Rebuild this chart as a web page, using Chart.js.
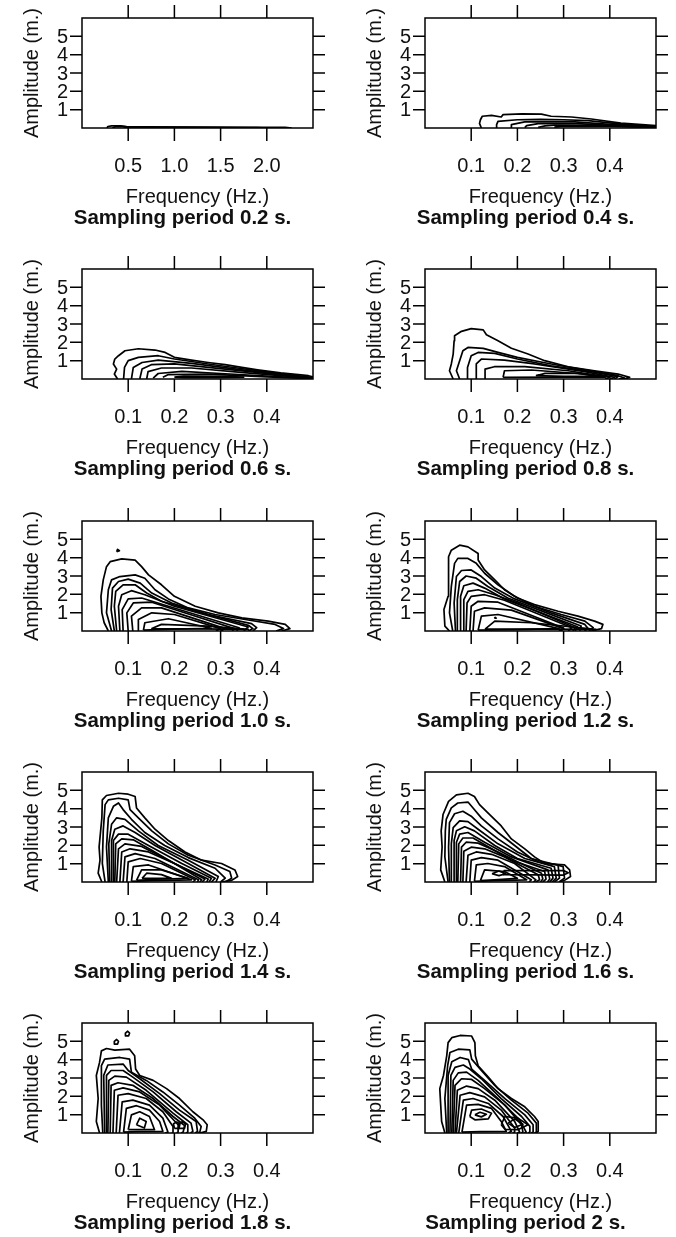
<!DOCTYPE html>
<html>
<head>
<meta charset="utf-8">
<script src="https://cdn.jsdelivr.net/npm/chart.js@4.4.0/dist/chart.umd.min.js"></script>
<style>
body { margin: 0; background: #fff; width: 676px; height: 1237px; overflow: hidden; position: relative; }
canvas { position: absolute; }
</style>
</head>
<body>
<script>
// contour lines, each one a flat list x1,y1,x2,y2,...  (x = Hz, y = m)
const p02 = [
  [0.27,0, 0.28,0.08, 0.32,0.12, 0.42,0.12, 0.48,0.08, 0.7,0.06, 1.2,0.05, 1.8,0.04, 2.2,0.03, 2.27,0],
  [0.33,0, 0.36,0.07, 0.44,0.07, 0.6,0.04, 1.2,0.03, 1.9,0.02, 2.0,0],
  [0.45,0, 0.5,0.03, 1.0,0.025, 1.6,0.015, 1.7,0]
]
const p04 = [
  [0.122,0, 0.118,0.25, 0.12,0.45, 0.124,0.64, 0.144,0.69, 0.165,0.6, 0.169,0.73, 0.21,0.77, 0.252,0.76, 0.273,0.64, 0.317,0.6, 0.36,0.49, 0.424,0.27, 0.5,0.13],
  [0.155,0, 0.155,0.18, 0.158,0.36, 0.2,0.45, 0.25,0.47, 0.3,0.45, 0.353,0.4, 0.43,0.2, 0.5,0.09],
  [0.187,0, 0.187,0.18, 0.216,0.33, 0.317,0.35, 0.4,0.2, 0.5,0.06],
  [0.216,0.02, 0.22,0.13, 0.245,0.24, 0.33,0.24, 0.42,0.12, 0.5,0.04],
  [0.245,0.04, 0.26,0.12, 0.28,0.16, 0.36,0.15, 0.45,0.08, 0.5,0.03],
  [0.28,0.05, 0.3,0.1, 0.4,0.09, 0.47,0.05]
]
const p06 = [
  [0.077,0, 0.07,0.27, 0.075,0.54, 0.068,0.82, 0.071,1.09, 0.079,1.27, 0.093,1.54, 0.122,1.65, 0.158,1.58, 0.18,1.45, 0.2,1.18, 0.237,1.03, 0.273,0.9, 0.31,0.78, 0.346,0.63, 0.38,0.5, 0.43,0.33, 0.49,0.18, 0.504,0.09],
  [0.09,0, 0.092,0.63, 0.1,1.0, 0.122,1.18, 0.165,1.27, 0.2,1.09, 0.273,0.82, 0.38,0.45, 0.504,0.06],
  [0.107,0, 0.111,0.63, 0.13,0.9, 0.165,1.03, 0.237,0.85, 0.346,0.5, 0.504,0.05],
  [0.125,0, 0.13,0.54, 0.15,0.78, 0.2,0.82, 0.31,0.54, 0.504,0.04],
  [0.14,0, 0.143,0.4, 0.172,0.6, 0.237,0.6, 0.35,0.35, 0.504,0.03],
  [0.154,0.05, 0.165,0.3, 0.216,0.42, 0.3,0.3, 0.504,0.02],
  [0.175,0.1, 0.187,0.24, 0.273,0.27, 0.4,0.12, 0.5,0.02],
  [0.2,0.1, 0.22,0.16, 0.3,0.15, 0.35,0.1, 0.3,0.08, 0.22,0.08, 0.2,0.1]
]
const p08 = [
  [0.061,0, 0.053,0.45, 0.057,0.82, 0.061,1.36, 0.063,2.08, 0.064,2.36, 0.079,2.6, 0.1,2.75, 0.126,2.68, 0.133,2.41, 0.158,2.08, 0.187,1.68, 0.223,1.36, 0.259,1.0, 0.31,0.67, 0.367,0.45, 0.418,0.27, 0.443,0.09, 0.432,0],
  [0.075,0, 0.068,0.45, 0.075,1.0, 0.082,1.54, 0.093,1.72, 0.126,1.67, 0.158,1.45, 0.2,1.18, 0.273,0.82, 0.346,0.5, 0.418,0.18, 0.432,0.05, 0.42,0],
  [0.093,0, 0.092,0.63, 0.1,1.27, 0.115,1.45, 0.151,1.4, 0.2,1.09, 0.273,0.72, 0.36,0.4, 0.418,0.13, 0.41,0],
  [0.111,0, 0.111,0.82, 0.122,1.09, 0.172,1.03, 0.237,0.82, 0.346,0.4, 0.41,0.09, 0.4,0],
  [0.13,0, 0.13,0.54, 0.15,0.67, 0.216,0.67, 0.31,0.45, 0.4,0.09, 0.39,0],
  [0.169,0.09, 0.172,0.45, 0.23,0.49, 0.33,0.3, 0.39,0.1, 0.3,0.1, 0.169,0.09],
  [0.24,0.18, 0.26,0.31, 0.33,0.31, 0.39,0.15, 0.3,0.14, 0.24,0.18]
]
const p10 = [
  [0.075,4.32, 0.077,4.45, 0.081,4.38, 0.075,4.32],
  [0.057,0, 0.048,0.45, 0.043,0.99, 0.041,1.89, 0.046,2.79, 0.053,3.51, 0.061,3.78, 0.086,3.93, 0.115,3.87, 0.129,3.51, 0.144,3.06, 0.172,2.52, 0.2,1.89, 0.245,1.35, 0.295,0.99, 0.346,0.72, 0.403,0.54, 0.44,0.36, 0.45,0.13, 0.432,0],
  [0.064,0, 0.053,0.99, 0.057,2.25, 0.064,2.79, 0.082,2.97, 0.115,3.06, 0.136,2.88, 0.158,2.25, 0.187,1.75, 0.23,1.26, 0.288,0.9, 0.36,0.6, 0.418,0.36, 0.436,0.13, 0.42,0],
  [0.07,0, 0.063,1.17, 0.066,2.34, 0.079,2.7, 0.1,2.83, 0.126,2.61, 0.151,2.07, 0.194,1.53, 0.273,0.9, 0.367,0.4, 0.378,0.18, 0.37,0],
  [0.075,0, 0.07,1.35, 0.073,2.16, 0.089,2.52, 0.115,2.52, 0.14,2.07, 0.172,1.62, 0.259,0.99, 0.36,0.31, 0.37,0.13, 0.36,0],
  [0.082,0, 0.079,1.35, 0.086,1.98, 0.107,2.2, 0.136,1.98, 0.2,1.35, 0.36,0.22, 0.35,0],
  [0.089,0, 0.087,1.17, 0.1,1.75, 0.129,1.8, 0.187,1.35, 0.34,0.18, 0.335,0],
  [0.1,0, 0.097,0.99, 0.111,1.53, 0.151,1.57, 0.2,1.17, 0.33,0.13, 0.325,0],
  [0.11,0, 0.107,0.81, 0.129,1.26, 0.172,1.26, 0.31,0.13, 0.3,0],
  [0.122,0, 0.122,0.63, 0.151,0.99, 0.2,0.9, 0.3,0.13, 0.29,0],
  [0.133,0.05, 0.136,0.45, 0.187,0.67, 0.28,0.15, 0.2,0.1, 0.133,0.05],
  [0.15,0.12, 0.172,0.36, 0.273,0.27, 0.36,0.09, 0.25,0.12, 0.15,0.12]
]
const p12 = [
  [0.15,0.7, 0.152,0.74, 0.154,0.7, 0.15,0.7],
  [0.053,0, 0.043,0.27, 0.041,1.17, 0.05,1.89, 0.051,4.05, 0.057,4.41, 0.075,4.68, 0.093,4.59, 0.115,4.23, 0.115,3.87, 0.129,3.33, 0.151,2.79, 0.172,2.25, 0.2,1.8, 0.237,1.44, 0.288,1.08, 0.331,0.81, 0.367,0.54, 0.385,0.36, 0.382,0.13, 0.36,0],
  [0.06,0, 0.053,0.99, 0.057,2.43, 0.064,3.69, 0.071,3.96, 0.093,3.96, 0.111,3.69, 0.129,3.15, 0.158,2.52, 0.194,1.89, 0.237,1.35, 0.295,0.9, 0.346,0.54, 0.364,0.18, 0.355,0],
  [0.066,0, 0.063,1.53, 0.068,2.97, 0.079,3.3, 0.1,3.33, 0.122,2.97, 0.151,2.34, 0.194,1.75, 0.273,0.99, 0.346,0.36, 0.353,0.13, 0.345,0],
  [0.071,0, 0.07,1.71, 0.075,2.7, 0.089,3.0, 0.111,2.88, 0.136,2.43, 0.179,1.8, 0.259,1.03, 0.338,0.27, 0.335,0],
  [0.077,0, 0.077,1.89, 0.084,2.47, 0.104,2.61, 0.129,2.34, 0.172,1.75, 0.33,0.23, 0.325,0],
  [0.083,0, 0.084,1.71, 0.093,2.16, 0.115,2.25, 0.151,1.98, 0.2,1.53, 0.325,0.18, 0.32,0],
  [0.089,0, 0.091,1.53, 0.1,1.89, 0.129,1.98, 0.172,1.68, 0.318,0.18, 0.31,0],
  [0.097,0, 0.1,1.35, 0.115,1.62, 0.158,1.57, 0.3,0.16, 0.295,0],
  [0.104,0, 0.107,1.08, 0.129,1.26, 0.187,1.14, 0.3,0.13, 0.29,0],
  [0.115,0.05, 0.122,0.81, 0.158,0.9, 0.29,0.13, 0.2,0.08, 0.115,0.05],
  [0.13,0.1, 0.151,0.54, 0.23,0.45, 0.37,0.09, 0.25,0.1, 0.13,0.1]
]
const p14 = [
  [0.043,0, 0.035,0.48, 0.039,1.19, 0.037,1.9, 0.043,3.5, 0.044,4.48, 0.053,4.72, 0.079,4.84, 0.1,4.79, 0.115,4.66, 0.118,4.04, 0.136,3.5, 0.158,2.88, 0.187,2.26, 0.223,1.64, 0.259,1.19, 0.302,1.01, 0.331,0.66, 0.337,0.3, 0.324,0.09, 0.302,0],
  [0.05,0, 0.044,1.01, 0.046,2.79, 0.05,4.22, 0.057,4.48, 0.079,4.57, 0.1,4.48, 0.104,3.95, 0.122,3.5, 0.151,2.79, 0.187,2.08, 0.23,1.46, 0.288,0.93, 0.32,0.57, 0.324,0.21, 0.31,0],
  [0.057,0, 0.053,1.9, 0.057,3.5, 0.068,4.13, 0.079,4.31, 0.089,3.95, 0.107,3.42, 0.136,2.7, 0.179,1.99, 0.23,1.33, 0.288,0.75, 0.31,0.21, 0.3,0],
  [0.06,0, 0.058,2.08, 0.064,3.15, 0.075,3.5, 0.093,3.42, 0.122,2.79, 0.165,1.99, 0.23,1.19, 0.295,0.3, 0.29,0],
  [0.064,0, 0.064,2.26, 0.071,2.88, 0.089,3.06, 0.115,2.7, 0.158,1.99, 0.223,1.1, 0.288,0.2, 0.28,0],
  [0.068,0, 0.068,2.26, 0.079,2.61, 0.1,2.61, 0.144,1.99, 0.216,1.01, 0.28,0.2, 0.275,0],
  [0.071,0, 0.073,2.08, 0.086,2.35, 0.111,2.3, 0.151,1.73, 0.2,1.01, 0.273,0.16, 0.27,0],
  [0.075,0, 0.079,1.81, 0.093,2.08, 0.129,1.94, 0.187,1.19, 0.266,0.16, 0.26,0],
  [0.082,0, 0.086,1.64, 0.104,1.81, 0.144,1.64, 0.2,1.01, 0.259,0.12, 0.255,0],
  [0.089,0, 0.093,1.37, 0.115,1.55, 0.158,1.28, 0.252,0.12, 0.25,0],
  [0.097,0, 0.1,1.1, 0.126,1.28, 0.172,1.01, 0.245,0.12, 0.24,0],
  [0.107,0.03, 0.111,0.84, 0.144,0.93, 0.237,0.12, 0.15,0.08, 0.107,0.03],
  [0.118,0.09, 0.129,0.66, 0.172,0.66, 0.23,0.2, 0.16,0.15, 0.118,0.09],
  [0.13,0.2, 0.14,0.48, 0.172,0.4, 0.194,0.2, 0.13,0.2]
]
const p16 = [
  [0.043,0, 0.034,0.66, 0.037,1.9, 0.035,2.79, 0.039,3.68, 0.051,4.4, 0.068,4.75, 0.093,4.84, 0.107,4.66, 0.118,4.22, 0.14,3.68, 0.165,3.06, 0.187,2.35, 0.216,1.81, 0.237,1.37, 0.259,1.01, 0.302,0.93, 0.313,0.66, 0.315,0.3, 0.302,0.09, 0.29,0],
  [0.05,0, 0.043,1.37, 0.044,2.79, 0.046,3.42, 0.057,4.04, 0.071,4.31, 0.093,4.36, 0.104,4.04, 0.122,3.5, 0.158,2.7, 0.194,1.99, 0.23,1.28, 0.273,1.01, 0.299,0.84, 0.302,0.21, 0.29,0],
  [0.053,0, 0.051,1.9, 0.053,3.24, 0.064,3.72, 0.082,3.86, 0.1,3.59, 0.122,3.06, 0.158,2.35, 0.2,1.64, 0.245,1.1, 0.288,0.93, 0.291,0.21, 0.28,0],
  [0.057,0, 0.057,2.08, 0.061,2.97, 0.075,3.33, 0.093,3.29, 0.115,2.88, 0.158,2.08, 0.216,1.28, 0.28,0.84, 0.284,0.21, 0.275,0],
  [0.063,0, 0.063,2.26, 0.068,2.79, 0.086,3.01, 0.107,2.79, 0.151,1.99, 0.2,1.28, 0.273,0.75, 0.277,0.21, 0.27,0],
  [0.068,0, 0.068,2.17, 0.075,2.61, 0.093,2.7, 0.129,2.17, 0.187,1.37, 0.266,0.66, 0.27,0.16, 0.265,0],
  [0.071,0, 0.073,2.08, 0.082,2.4, 0.104,2.4, 0.136,1.94, 0.187,1.19, 0.259,0.57, 0.262,0.16, 0.255,0],
  [0.077,0, 0.079,1.9, 0.089,2.17, 0.115,2.12, 0.158,1.64, 0.2,1.1, 0.252,0.48, 0.255,0.16, 0.25,0],
  [0.082,0, 0.084,1.68, 0.1,1.9, 0.129,1.81, 0.172,1.37, 0.245,0.4, 0.248,0.12, 0.24,0],
  [0.089,0, 0.093,1.46, 0.111,1.64, 0.144,1.51, 0.194,1.01, 0.24,0.12, 0.235,0],
  [0.097,0, 0.1,1.19, 0.122,1.33, 0.158,1.19, 0.23,0.12, 0.225,0],
  [0.107,0.03, 0.111,0.93, 0.136,1.01, 0.172,0.84, 0.22,0.12, 0.15,0.07, 0.107,0.03],
  [0.12,0.08, 0.129,0.66, 0.172,0.57, 0.2,0.2, 0.15,0.12, 0.12,0.08],
  [0.145,0.45, 0.16,0.6, 0.175,0.45, 0.16,0.35, 0.145,0.45],
  [0.17,0.62, 0.3,0.62, 0.31,0.5, 0.3,0.38, 0.17,0.4, 0.17,0.62]
]
const p18 = [
  [0.071,4.85, 0.07,5.0, 0.075,5.1, 0.079,5.0, 0.077,4.85, 0.071,4.85],
  [0.095,5.3, 0.094,5.45, 0.099,5.55, 0.103,5.45, 0.101,5.3, 0.095,5.3],
  [0.038,0, 0.031,0.63, 0.035,1.88, 0.031,3.14, 0.038,3.85, 0.042,4.48, 0.053,4.61, 0.071,4.52, 0.103,4.57, 0.114,4.21, 0.116,3.49, 0.125,3.14, 0.154,2.87, 0.183,2.42, 0.211,1.88, 0.24,1.16, 0.262,0.72, 0.271,0.45, 0.269,0.09, 0.255,0],
  [0.045,0, 0.042,1.52, 0.042,3.67, 0.049,4.03, 0.082,4.12, 0.103,4.03, 0.107,3.32, 0.139,2.87, 0.175,2.24, 0.211,1.52, 0.244,0.81, 0.258,0.36, 0.255,0.05, 0.25,0],
  [0.049,0, 0.047,3.14, 0.056,3.71, 0.089,3.76, 0.1,3.41, 0.125,2.96, 0.168,2.15, 0.211,1.25, 0.247,0.63, 0.25,0.09, 0.245,0],
  [0.053,0, 0.053,3.14, 0.063,3.41, 0.089,3.41, 0.11,3.05, 0.154,2.24, 0.204,1.16, 0.236,0.54, 0.24,0.09, 0.235,0],
  [0.056,0, 0.058,2.87, 0.071,3.1, 0.096,3.05, 0.139,2.33, 0.197,1.08, 0.229,0.45, 0.229,0.05, 0.225,0],
  [0.061,0, 0.063,2.6, 0.078,2.74, 0.11,2.6, 0.154,1.88, 0.197,0.9, 0.222,0.41, 0.219,0.05, 0.215,0],
  [0.067,0, 0.07,2.33, 0.089,2.46, 0.125,2.24, 0.168,1.52, 0.208,0.45, 0.208,0.05, 0.205,0],
  [0.074,0, 0.078,2.06, 0.1,2.15, 0.139,1.88, 0.175,1.16, 0.197,0.36, 0.197,0.05, 0.195,0],
  [0.081,0, 0.087,1.7, 0.11,1.79, 0.146,1.52, 0.175,0.81, 0.186,0.05, 0.18,0],
  [0.09,0.05, 0.096,1.34, 0.118,1.49, 0.146,1.25, 0.168,0.63, 0.175,0.09, 0.12,0.07, 0.09,0.05],
  [0.1,0.18, 0.107,0.99, 0.125,1.16, 0.146,0.9, 0.157,0.18, 0.1,0.18],
  [0.118,0.45, 0.125,0.81, 0.139,0.63, 0.135,0.27, 0.118,0.45],
  [0.2,0.25, 0.198,0.5, 0.205,0.6, 0.212,0.5, 0.21,0.25, 0.2,0.25],
  [0.212,0.25, 0.21,0.5, 0.217,0.62, 0.224,0.5, 0.222,0.25, 0.212,0.25]
]
const p20 = [
  [0.043,0, 0.036,0.63, 0.032,2.42, 0.04,3.14, 0.047,4.21, 0.05,4.93, 0.058,5.2, 0.076,5.32, 0.101,5.29, 0.108,4.93, 0.109,4.21, 0.115,3.67, 0.137,3.05, 0.158,2.42, 0.187,1.88, 0.216,1.43, 0.237,0.9, 0.245,0.63, 0.245,0.09, 0.24,0],
  [0.047,0, 0.043,1.88, 0.049,3.67, 0.054,4.39, 0.072,4.57, 0.097,4.53, 0.101,4.03, 0.122,3.41, 0.151,2.6, 0.187,1.79, 0.223,1.08, 0.241,0.54, 0.241,0.05, 0.237,0],
  [0.05,0, 0.05,3.14, 0.058,3.89, 0.076,4.12, 0.094,4.0, 0.101,3.49, 0.129,2.87, 0.173,1.88, 0.216,0.99, 0.234,0.45, 0.234,0.05, 0.23,0],
  [0.054,0, 0.056,3.14, 0.065,3.58, 0.083,3.71, 0.097,3.49, 0.122,2.96, 0.165,1.88, 0.209,0.9, 0.227,0.36, 0.227,0.05, 0.223,0],
  [0.058,0, 0.061,2.87, 0.072,3.28, 0.09,3.32, 0.115,2.87, 0.158,1.88, 0.205,0.72, 0.219,0.05, 0.215,0],
  [0.061,0, 0.065,2.6, 0.079,2.96, 0.101,2.92, 0.129,2.42, 0.173,1.52, 0.209,0.45, 0.212,0.05, 0.208,0],
  [0.065,0, 0.07,2.33, 0.09,2.56, 0.115,2.42, 0.151,1.79, 0.194,0.63, 0.205,0.05, 0.2,0],
  [0.068,0, 0.076,2.06, 0.097,2.2, 0.129,1.97, 0.165,1.25, 0.194,0.27, 0.194,0.05, 0.19,0],
  [0.073,0, 0.083,1.79, 0.104,1.88, 0.137,1.61, 0.169,0.9, 0.187,0.09, 0.18,0],
  [0.08,0.05, 0.09,1.52, 0.115,1.56, 0.144,1.34, 0.165,0.63, 0.176,0.09, 0.12,0.07, 0.08,0.05],
  [0.097,0.9, 0.101,1.25, 0.122,1.31, 0.144,1.08, 0.137,0.77, 0.108,0.72, 0.097,0.9],
  [0.108,0.99, 0.119,1.13, 0.133,1.02, 0.122,0.88, 0.108,0.99],
  [0.165,0.45, 0.173,0.9, 0.201,0.81, 0.223,0.45, 0.201,0.18, 0.173,0.2, 0.165,0.45],
  [0.18,0.54, 0.194,0.77, 0.212,0.48, 0.194,0.3, 0.18,0.54]
]

const panels = [p02, p04, p06, p08, p10, p12, p14, p16, p18, p20]
const periods = ['0.2', '0.4', '0.6', '0.8', '1.0', '1.2', '1.4', '1.6', '1.8', '2']
const freqMax = [2.5, 0.5, 0.5, 0.5, 0.5, 0.5, 0.5, 0.5, 0.5, 0.5]
const ticksWide = [0.5, 1.0, 1.5, 2.0]
const ticksNarrow = [0.1, 0.2, 0.3, 0.4]
const ampTicks = [1, 2, 3, 4, 5]
const ampMax = 6

// draws the R-style box, ticks on all four sides and the labels
const rFrame = {
  id: 'rFrame',
  afterDraw(chart) {
    const c = chart.ctx
    const a = chart.chartArea
    const sx = chart.scales.x
    const sy = chart.scales.y
    const o = chart.options.plugins.rFrame
    const mid = (a.left + a.right) / 2

    c.save()
    c.strokeStyle = '#000'
    c.lineWidth = 1.5
    c.strokeRect(a.left, a.top, a.right - a.left, a.bottom - a.top)

    c.beginPath()
    o.xTicks.forEach(function (v) {
      let px = sx.getPixelForValue(v)
      c.moveTo(px, a.top - 13); c.lineTo(px, a.top)
      c.moveTo(px, a.bottom); c.lineTo(px, a.bottom + 13)
    })
    ampTicks.forEach(function (v) {
      let py = sy.getPixelForValue(v)
      c.moveTo(a.left - 12, py); c.lineTo(a.left, py)
      c.moveTo(a.right, py); c.lineTo(a.right + 12, py)
    })
    c.stroke()

    c.fillStyle = '#111'
    c.font = '20px "Liberation Sans", Arial, sans-serif'
    c.textBaseline = 'middle'
    c.textAlign = 'center'
    o.xTicks.forEach(function (v) {
      c.fillText(v.toFixed(1), sx.getPixelForValue(v), a.bottom + 38)
    })
    c.fillText('Frequency (Hz.)', mid, a.bottom + 69)

    c.textAlign = 'right'
    ampTicks.forEach(function (v) {
      c.fillText(String(v), a.left - 14, sy.getPixelForValue(v) + 1)
    })

    c.save()
    c.translate(a.left - 50, (a.top + a.bottom) / 2)
    c.rotate(-Math.PI / 2)
    c.textAlign = 'center'
    c.fillText('Amplitude (m.)', 0, 0)
    c.restore()

    c.textAlign = 'center'
    c.font = 'bold 20.5px "Liberation Sans", Arial, sans-serif'
    c.fillText('Sampling period ' + o.period + ' s.', mid - 15, a.bottom + 90)
    c.restore()
  }
}

function makePanel(i) {
  let row = Math.floor(i / 2)
  let col = i % 2
  let cv = document.createElement('canvas')
  cv.width = 338
  cv.height = 251
  cv.style.left = (col * 343) + 'px'
  cv.style.top = Math.round(row * 251.3) + 'px'
  document.body.appendChild(cv)

  let datasets = panels[i].map(function (line) {
    let pts = []
    for (let k = 0; k < line.length; k += 2) {
      pts.push({ x: line[k], y: line[k + 1] })
    }
    return {
      data: pts,
      showLine: true,
      fill: false,
      borderColor: '#000',
      borderWidth: 1.7,
      borderJoinStyle: 'round',
      pointRadius: 0,
      tension: 0
    }
  })

  new Chart(cv.getContext('2d'), {
    type: 'scatter',
    data: { datasets: datasets },
    options: {
      responsive: false,
      animation: false,
      events: [],
      layout: { padding: { left: 82, right: 25, top: 18, bottom: 123 } },
      scales: {
        x: { type: 'linear', min: 0, max: freqMax[i], display: false },
        y: { type: 'linear', min: 0, max: ampMax, display: false }
      },
      plugins: {
        legend: { display: false },
        tooltip: { enabled: false },
        rFrame: { xTicks: i == 0 ? ticksWide : ticksNarrow, period: periods[i] }
      }
    },
    plugins: [rFrame]
  })
}

for (let i = 0; i < panels.length; i++) {
  makePanel(i)
}
</script>
</body>
</html>
